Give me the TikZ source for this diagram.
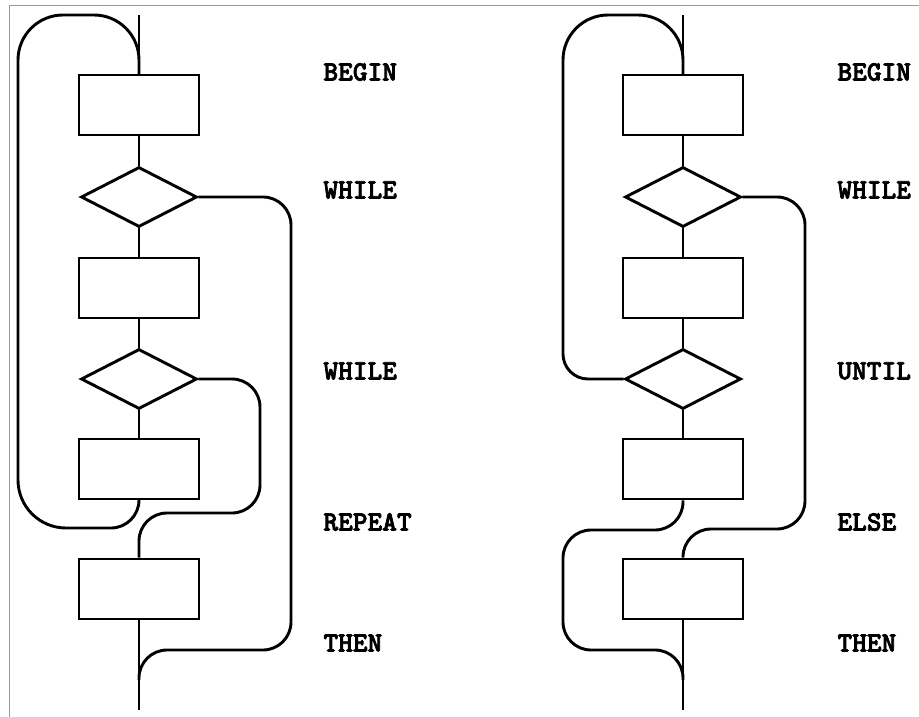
\documentclass[tikz,border=0pt]{standalone}
\usepackage{fontspec}
\usetikzlibrary{shapes.geometric}
\newfontfamily\codefont{lmmonolt10-bold.otf}[FakeBold=2.5]

\begin{document}
\begin{tikzpicture}[x=1pt,y=-1pt,line width=2.9pt,
  caixa/.style={draw,rectangle,minimum width=120pt,minimum height=60pt,inner sep=0pt},
  losango/.style={draw,diamond,minimum width=116pt,minimum height=60pt,inner sep=0pt},
  palavra/.style={font=\codefont\fontsize{28pt}{28pt}\selectfont,anchor=west,inner sep=0pt}]
  \useasboundingbox (0,0) rectangle (919,717);
  %moldura
  \draw[gray!80,line width=1pt] (9,717) -- (9,6) -- (919,6);

  %fluxograma da esquerda
  \coordinate (ltopo) at (139,15);
  \coordinate (lfim) at (139,710);
  \node[caixa] (lb1) at (139,105) {};
  \node[losango] (ld1) at (139,197) {};
  \node[caixa] (lb2) at (139,288) {};
  \node[losango] (ld2) at (139,379) {};
  \node[caixa] (lb3) at (139,469) {};
  \node[caixa] (lb4) at (139,589) {};

  \draw (ltopo) -- (lb1) -- (ld1) -- (lb2) -- (ld2) -- (lb3);
  \draw (lb4) -- (lfim);
  %laco do repeat
  \draw[rounded corners=28] (lb3.south) -- (139,528) -- (90,528);
  \draw[rounded corners=48] (90,528) -- (18,528) -- (18,200);
  \draw[rounded corners=45] (18,200) -- (18,15) -- (139,15) -- (139,75);
  %saidas dos while
  \draw[rounded corners=28] (ld1.east) -- (291,197) -- (291,650) -- (139,650) -- (139,680);
  \draw[rounded corners=28] (ld2.east) -- (260,379) -- (260,513) -- (139,513) -- (lb4.north);

  \node[palavra] (lbegin) at (322,72) {BEGIN};
  \node[palavra] (lwhile1) at (322,190) {WHILE};
  \node[palavra] (lwhile2) at (322,371) {WHILE};
  \node[palavra] (lrepeat) at (322,522) {REPEAT};
  \node[palavra] (lthen) at (322,643) {THEN};

  %fluxograma da direita
  \coordinate (rtopo) at (683,15);
  \coordinate (rfim) at (683,710);
  \node[caixa] (rb1) at (683,105) {};
  \node[losango] (rd1) at (683,197) {};
  \node[caixa] (rb2) at (683,288) {};
  \node[losango] (rd2) at (683,379) {};
  \node[caixa] (rb3) at (683,469) {};
  \node[caixa] (rb4) at (683,589) {};

  \draw (rtopo) -- (rb1) -- (rd1) -- (rb2) -- (rd2) -- (rb3);
  \draw (rb4) -- (rfim);
  %laco do until
  \draw[rounded corners=45] (683,75) -- (683,15) -- (563,15) -- (563,200);
  \draw[rounded corners=25] (563,200) -- (563,379) -- (rd2.west);
  %saida do while
  \draw[rounded corners=28] (rd1.east) -- (805,197) -- (805,529) -- (683,529) -- (rb4.north);
  %ramo do else
  \draw[rounded corners=28] (rb3.south) -- (683,530) -- (563,530) -- (563,650) -- (683,650) -- (683,680);

  \node[palavra] (rbegin) at (836,72) {BEGIN};
  \node[palavra] (rwhile) at (836,190) {WHILE};
  \node[palavra] (runtil) at (836,371) {UNTIL};
  \node[palavra] (relse) at (836,522) {ELSE};
  \node[palavra] (rthen) at (836,643) {THEN};
\end{tikzpicture}
\end{document}
